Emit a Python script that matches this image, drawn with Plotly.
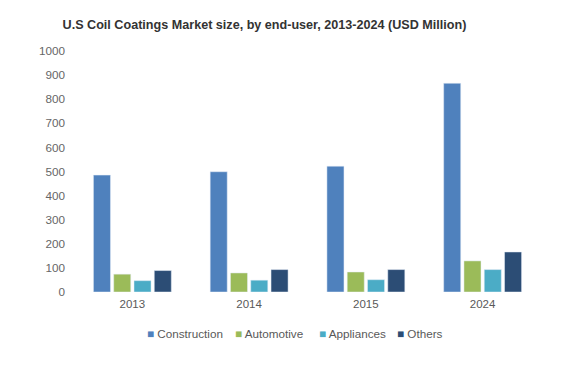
import plotly.graph_objects as go

years = ["2013", "2014", "2015", "2024"]
construction = [485, 499, 522, 866]
automotive = [74, 79, 83, 129]
appliances = [47, 49, 51, 93]
others = [89, 93, 93, 166]

names = ["Construction", "Automotive", "Appliances", "Others"]
colors = ["#4F81BD", "#9BBB59", "#4BACC6", "#2C4D75"]
values = [construction, automotive, appliances, others]

W, H = 580, 370
ML, MR, MT, MB = 74, 39, 51, 78

fig = go.Figure()
for name, vals, color in zip(names, values, colors):
    fig.add_trace(go.Bar(x=years, y=vals, name=name, marker_color=color,
                         showlegend=False, hoverinfo="y"))

# custom legend (square + label) placed under the plot
legend_px = [145, 233, 317, 395]  # left pixel of each legend item
pw = W - ML - MR
for name, color, px in zip(names, colors, legend_px):
    fig.add_annotation(
        text=f"<span style='color:{color}'>■</span> {name}",
        xref="paper", yref="paper", x=(px - ML) / pw, xanchor="left",
        y=-(333 - (H - MB)) / (H - MT - MB), yanchor="middle",
        showarrow=False, font=dict(size=11.7, color="#595959"))

fig.update_layout(
    width=W, height=H,
    margin=dict(l=ML, r=MR, t=MT, b=MB),
    paper_bgcolor="white", plot_bgcolor="white",
    barmode="group", bargap=0.305, bargroupgap=0.16,
    showlegend=False,
    title=dict(text="<b>U.S Coil Coatings Market size, by end-user, 2013-2024 (USD Million)</b>",
               x=264.5 / W, xanchor="center", y=1 - 25 / H, yanchor="middle",
               font=dict(family="Liberation Sans, Arial", size=12.6, color="#333333")),
    font=dict(family="Liberation Sans, Arial", size=11.7, color="#666666"),
    xaxis=dict(showgrid=False, showline=False, zeroline=False, ticks="",
               ticklabelstandoff=3, tickfont=dict(size=11.5, color="#595959")),
    yaxis=dict(range=[0, 1000], dtick=100, showgrid=False, showline=False,
               zeroline=False, ticks="", ticklabelstandoff=8,
               tickfont=dict(size=11.7, color="#666666")),
)

fig.write_html("out.html", config={"displayModeBar": False},
               post_script="document.body.style.margin='0';")
